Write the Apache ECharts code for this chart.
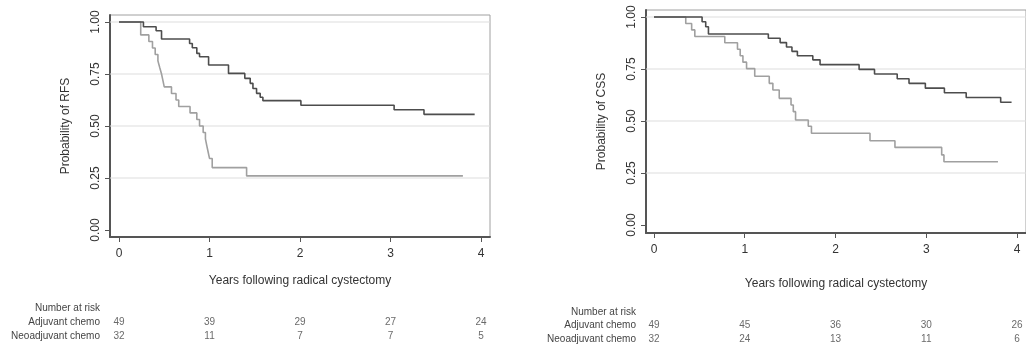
<!DOCTYPE html>
<html>
<head>
<meta charset="utf-8">
<script src="https://cdn.jsdelivr.net/npm/echarts@6/dist/echarts.min.js"></script>
<style>
    html, body { margin: 0; padding: 0; background: #fff; }
    #chart { width: 1026px; height: 346px; }
</style>
</head>
<body>
<div id="chart"></div>
<script>
var yearTicks = [0, 1, 2, 3, 4];
var probTicks = [0, 0.25, 0.5, 0.75, 1];
var gridProbs = [0.25, 0.5, 0.75, 1];
var riskRows = ['Number at risk', 'Adjuvant chemo', 'Neoadjuvant chemo'];

// Kaplan-Meier steps: [years, probability]
var rfsAdjuvant = [[0, 1], [0.27, 0.977], [0.41, 0.958], [0.47, 0.918], [0.78, 0.897], [0.81, 0.876],
    [0.86, 0.849], [0.89, 0.833], [0.99, 0.793], [1.21, 0.753], [1.39, 0.729], [1.45, 0.705],
    [1.48, 0.68], [1.52, 0.657], [1.56, 0.638], [1.59, 0.622], [2.01, 0.6], [3.04, 0.578],
    [3.37, 0.556], [3.93, 0.556]];
var rfsNeoadjuvant = [[0, 1], [0.24, 0.938], [0.33, 0.906], [0.37, 0.875], [0.40, 0.844], [0.43, 0.813],
    [0.45, 0.781], [0.47, 0.75], [0.485, 0.719], [0.50, 0.688], [0.58, 0.656], [0.63, 0.625],
    [0.66, 0.594], [0.785, 0.563], [0.86, 0.531], [0.89, 0.5], [0.93, 0.469], [0.955, 0.438],
    [0.97, 0.406], [0.985, 0.375], [1.0, 0.344], [1.03, 0.3], [1.41, 0.26], [3.80, 0.26]];
var cssAdjuvant = [[0, 1], [0.53, 0.977], [0.57, 0.953], [0.60, 0.918], [1.26, 0.898], [1.39, 0.877],
    [1.46, 0.856], [1.52, 0.835], [1.58, 0.814], [1.75, 0.794], [1.83, 0.771], [2.26, 0.748],
    [2.43, 0.726], [2.68, 0.703], [2.81, 0.681], [2.99, 0.658], [3.20, 0.636], [3.44, 0.613],
    [3.82, 0.59], [3.94, 0.59]];
var cssNeoadjuvant = [[0, 1], [0.35, 0.969], [0.415, 0.938], [0.45, 0.906], [0.78, 0.876], [0.92, 0.845],
    [0.95, 0.814], [0.98, 0.783], [1.02, 0.752], [1.11, 0.715], [1.27, 0.681], [1.31, 0.649],
    [1.38, 0.609], [1.51, 0.577], [1.535, 0.545], [1.56, 0.505], [1.70, 0.475], [1.735, 0.441],
    [2.38, 0.405], [2.655, 0.373], [3.17, 0.337], [3.195, 0.304], [3.79, 0.304]];

var rfsRiskAdjuvant = [49, 39, 29, 27, 24];
var rfsRiskNeoadjuvant = [32, 11, 7, 7, 5];
var cssRiskAdjuvant = [49, 45, 36, 30, 26];
var cssRiskNeoadjuvant = [32, 24, 13, 11, 6];

var font = '"Liberation Sans", Arial, sans-serif';
var xRanges = [[-0.0994, 4.0994], [-0.088, 4.099]];
var yRanges = [[-0.0337, 1.0337], [-0.0385, 1.0337]];

function mainXAxis(i, gap) {
    return {
        gridIndex: i, type: 'value', min: xRanges[i][0], max: xRanges[i][1],
        axisLine: { show: true, onZero: false, lineStyle: { color: '#555', width: 2 } },
        axisTick: { show: true, length: 5, customValues: yearTicks, lineStyle: { color: '#555' } },
        axisLabel: { customValues: yearTicks, margin: 11, fontSize: 12, color: '#333', fontFamily: font },
        splitLine: { show: false },
        name: 'Years following radical cystectomy', nameLocation: 'middle', nameGap: gap,
        nameTextStyle: { fontSize: 12, color: '#333', fontFamily: font }
    };
}

function mainYAxis(i, title) {
    return {
        gridIndex: i, type: 'value', min: yRanges[i][0], max: yRanges[i][1],
        axisLine: { show: true, onZero: false, lineStyle: { color: '#555', width: 2 } },
        axisTick: { show: true, length: 5, customValues: probTicks, lineStyle: { color: '#555' } },
        axisLabel: {
            customValues: probTicks, rotate: 90, margin: 8, fontSize: 12, color: '#333', fontFamily: font,
            formatter: function (v) { return v.toFixed(2); }
        },
        splitLine: { show: false },
        name: title, nameLocation: 'middle', nameGap: 38,
        nameTextStyle: { fontSize: 12, color: '#333', fontFamily: font }
    };
}

function gridLineSeries(i) {
    return gridProbs.map(function (p) {
        return {
            type: 'line', xAxisIndex: i, yAxisIndex: i, silent: true, z: 1,
            symbol: 'none', lineStyle: { color: '#dedede', width: 1.2 },
            data: [[xRanges[i][0], p], [xRanges[i][1], p]]
        };
    });
}

function curve(i, data, color) {
    return {
        type: 'line', xAxisIndex: i, yAxisIndex: i, step: 'end', z: 3,
        symbol: 'none', lineStyle: { color: color, width: 1.6 }, data: data
    };
}

function riskSeries(i, row, counts) {
    return {
        type: 'scatter', xAxisIndex: i, yAxisIndex: i, symbolSize: 1,
        itemStyle: { color: 'transparent' },
        label: {
            show: true, position: 'inside', fontSize: 10, color: '#444', fontFamily: font,
            formatter: function (p) { return p.value[2]; }
        },
        data: counts.map(function (n, k) { return [yearTicks[k], row, n]; })
    };
}

function riskXAxis(i, main) {
    return { gridIndex: i, type: 'value', min: xRanges[main][0], max: xRanges[main][1], show: false };
}

function riskYAxis(i) {
    return {
        gridIndex: i, type: 'category', data: riskRows, inverse: true,
        axisLine: { show: false }, axisTick: { show: false }, splitLine: { show: false },
        axisLabel: { margin: 10, fontSize: 10, color: '#444', fontFamily: font }
    };
}

var chart = echarts.init(document.getElementById('chart'));
var options = {
    animation: false,
    grid: [
        { left: 110, top: 15, width: 380, height: 222, show: true, borderColor: '#a0a0a0', borderWidth: 1 },
        { left: 646, top: 10, width: 380, height: 223, show: true, borderColor: '#a0a0a0', borderWidth: 1 },
        { left: 110, top: 301, width: 380, height: 42 },
        { left: 646, top: 305, width: 380, height: 43 }
    ],
    xAxis: [mainXAxis(0, 38), mainXAxis(1, 45), riskXAxis(2, 0), riskXAxis(3, 1)],
    yAxis: [mainYAxis(0, 'Probability of RFS'), mainYAxis(1, 'Probability of CSS'), riskYAxis(2), riskYAxis(3)],
    series: [].concat(
        gridLineSeries(0),
        gridLineSeries(1),
        [
            curve(0, rfsNeoadjuvant, '#a0a0a0'),
            curve(0, rfsAdjuvant, '#4d4d4d'),
            curve(1, cssNeoadjuvant, '#a0a0a0'),
            curve(1, cssAdjuvant, '#4d4d4d'),
            riskSeries(2, 'Adjuvant chemo', rfsRiskAdjuvant),
            riskSeries(2, 'Neoadjuvant chemo', rfsRiskNeoadjuvant),
            riskSeries(3, 'Adjuvant chemo', cssRiskAdjuvant),
            riskSeries(3, 'Neoadjuvant chemo', cssRiskNeoadjuvant)
        ]
    )
};
chart.setOption(options);
</script>
</body>
</html>
